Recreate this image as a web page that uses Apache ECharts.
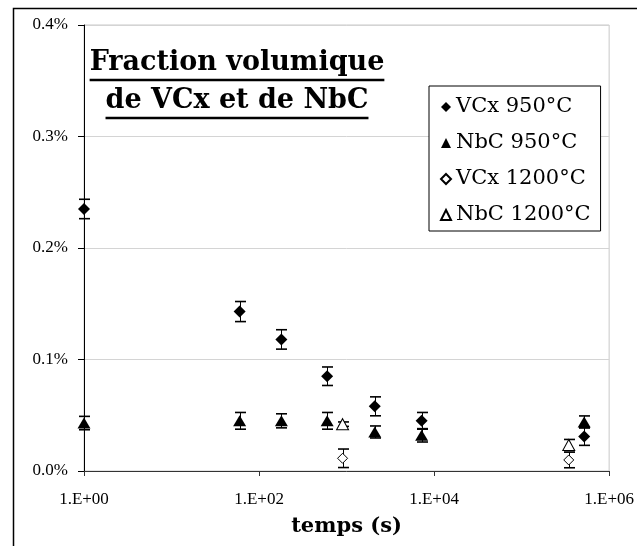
<!DOCTYPE html>
<html><head><meta charset="utf-8">
<script src="https://cdn.jsdelivr.net/npm/echarts@6/dist/echarts.min.js"></script>
<style>html,body{margin:0;padding:0;background:#fff}#c{width:637px;height:546px}</style>
</head><body><div id="c"></div>
<script>
// time (s)
const times950 = [1, 60, 180, 600, 2100, 7200, 518400];
const times1200 = [900, 345600];
// volume fraction (%)
const vcx950 = [0.235, 0.143, 0.118, 0.085, 0.058, 0.045, 0.031];
const vcx950Err = [0.0087, 0.009, 0.0087, 0.0083, 0.0085, 0.0075, 0.008];
const nbc950 = [0.043, 0.045, 0.045, 0.045, 0.035, 0.032, 0.044];
const nbc950Err = [0.006, 0.0075, 0.0063, 0.0075, 0.0054, 0.006, 0.0054];
const vcx1200 = [0.0114, 0.0099];
const vcx1200Err = [0.0083, 0.007];
const nbc1200 = [0.042, 0.0233];
const nbc1200Err = [0.002, 0.005];
const seriesNames = ['VCx 950°C', 'NbC 950°C', 'VCx 1200°C', 'NbC 1200°C'];
const titleLines = ['Fraction volumique', 'de VCx et de NbC'];
const xTicks = [1, 1e2, 1e4, 1e6];
const yTicks = [0, 0.1, 0.2, 0.3, 0.4];
const xTitle = 'temps (s)';

const chart = echarts.init(document.getElementById('c'), null, {renderer: 'canvas'});

function pts(ts, vs) { return ts.map((t, i) => [t, vs[i]]); }
function errs(ts, vs, es) { return ts.map((t, i) => [t, vs[i], es[i]]); }

function errRender(params, api) {
  const x = api.value(0), y = api.value(1), e = api.value(2);
  const hi = api.coord([x, y + e]), lo = api.coord([x, y - e]);
  const w = 5.5;
  const cx = Math.round(hi[0]) + 0.5;
  return {type: 'group', children: [
    {type: 'line', shape: {x1: cx, y1: hi[1], x2: cx, y2: lo[1]}, style: {stroke: '#000', lineWidth: 1}},
    {type: 'line', shape: {x1: cx - w, y1: hi[1], x2: cx + w, y2: hi[1]}, style: {stroke: '#000', lineWidth: 1.6}},
    {type: 'line', shape: {x1: cx - w, y1: lo[1], x2: cx + w, y2: lo[1]}, style: {stroke: '#000', lineWidth: 1.6}}
  ]};
}

function errSeries(data) {
  return {type: 'custom', renderItem: errRender, data: data, z: 2, silent: true,
    encode: {x: 0, y: 1}, animation: false};
}

const filled = {color: '#000', opacity: 1};
const open = {color: '#fff', borderColor: '#000', borderWidth: 1, opacity: 1};

// title text measurement for underline
const titleFont = 'bold 27px "DejaVu Serif"';
const ctx = document.createElement('canvas').getContext('2d');
ctx.font = titleFont;
const tw = titleLines.map(s => ctx.measureText(s).width);
const titleCx = 237;
const lineY = [63, 101];
const ulY = [80, 118];

const option = {
  backgroundColor: '#fff',
  animation: false,
  grid: {left: 84, right: 26, top: 25, bottom: 75, show: true, borderColor: '#c8c8c8', borderWidth: 1},
  xAxis: {
    type: 'log', logBase: 10, min: 1, max: 1e6, interval: 2, splitNumber: 3,
    axisLine: {show: true, lineStyle: {color: '#333', width: 1}},
    axisTick: {show: true, inside: false, length: 5, lineStyle: {color: '#333'}},
    minorTick: {show: false},
    splitLine: {show: false},
    axisLabel: {margin: 20, color: '#000', fontFamily: 'Liberation Serif', fontSize: 17,
      formatter: v => {
        const e = Math.round(Math.log10(v));
        return xTicks.indexOf(Math.pow(10, e)) >= 0 ? '1.E+' + String(e).padStart(2, '0') : '';
      }},
    name: xTitle, nameLocation: 'middle', nameGap: 45,
    nameTextStyle: {fontFamily: 'DejaVu Serif', fontWeight: 'bold', fontSize: 21, color: '#000'}
  },
  yAxis: {
    type: 'value', min: yTicks[0], max: yTicks[yTicks.length - 1], interval: 0.1,
    axisLine: {show: true, lineStyle: {color: '#000', width: 1}},
    axisTick: {show: true, inside: false, length: 6, lineStyle: {color: '#000'}},
    splitLine: {show: true, lineStyle: {color: '#d4d4d4', width: 1}},
    axisLabel: {margin: 16, color: '#000', fontFamily: 'Liberation Serif', fontSize: 17,
      formatter: v => v.toFixed(1) + '%'}
  },
  legend: {
    orient: 'vertical', left: 429, top: 86,
    padding: [9, 10, 4, 11], itemGap: 12, itemWidth: 10, itemHeight: 10,
    backgroundColor: '#fff', borderColor: '#000', borderWidth: 1, borderRadius: 0,
    textStyle: {fontFamily: 'DejaVu Serif', fontSize: 21, color: '#000', lineHeight: 24},
    selectedMode: false,
    data: [
      {name: seriesNames[0], icon: 'diamond'},
      {name: seriesNames[1], icon: 'triangle'},
      {name: seriesNames[2], icon: 'diamond'},
      {name: seriesNames[3], icon: 'triangle'}
    ]
  },
  graphic: [
    {type: 'polyline', shape: {points: [[13.5, 546], [13.5, 8.5], [637, 8.5]]}, style: {stroke: '#000', lineWidth: 1.5, fill: null}, z: 100},
    {type: 'text', x: titleCx, y: lineY[0], style: {text: titleLines[0], font: titleFont, fill: '#000', align: 'center', verticalAlign: 'middle'}, z: 100},
    {type: 'text', x: titleCx, y: lineY[1], style: {text: titleLines[1], font: titleFont, fill: '#000', align: 'center', verticalAlign: 'middle'}, z: 100},
    {type: 'line', shape: {x1: titleCx - tw[0] / 2, y1: ulY[0], x2: titleCx + tw[0] / 2, y2: ulY[0]}, style: {stroke: '#000', lineWidth: 2.5}, z: 100},
    {type: 'line', shape: {x1: titleCx - tw[1] / 2, y1: ulY[1], x2: titleCx + tw[1] / 2, y2: ulY[1]}, style: {stroke: '#000', lineWidth: 2.5}, z: 100}
  ],
  series: [
    errSeries(errs(times950, vcx950, vcx950Err)),
    errSeries(errs(times950, nbc950, nbc950Err)),
    errSeries(errs(times1200, vcx1200, vcx1200Err)),
    errSeries(errs(times1200, nbc1200, nbc1200Err)),
    {type: 'scatter', name: seriesNames[0], symbol: 'diamond', symbolSize: 12, itemStyle: filled, data: pts(times950, vcx950), z: 3},
    {type: 'scatter', name: seriesNames[1], symbol: 'triangle', symbolSize: [13, 11], itemStyle: filled, data: pts(times950, nbc950), z: 3},
    {type: 'scatter', name: seriesNames[2], symbol: 'diamond', symbolSize: 10, itemStyle: open, data: pts(times1200, vcx1200), z: 4},
    {type: 'scatter', name: seriesNames[3], symbol: 'triangle', symbolSize: [12, 11], itemStyle: open, data: pts(times1200, nbc1200), z: 4}
  ]
};
chart.setOption(option);
</script></body></html>
